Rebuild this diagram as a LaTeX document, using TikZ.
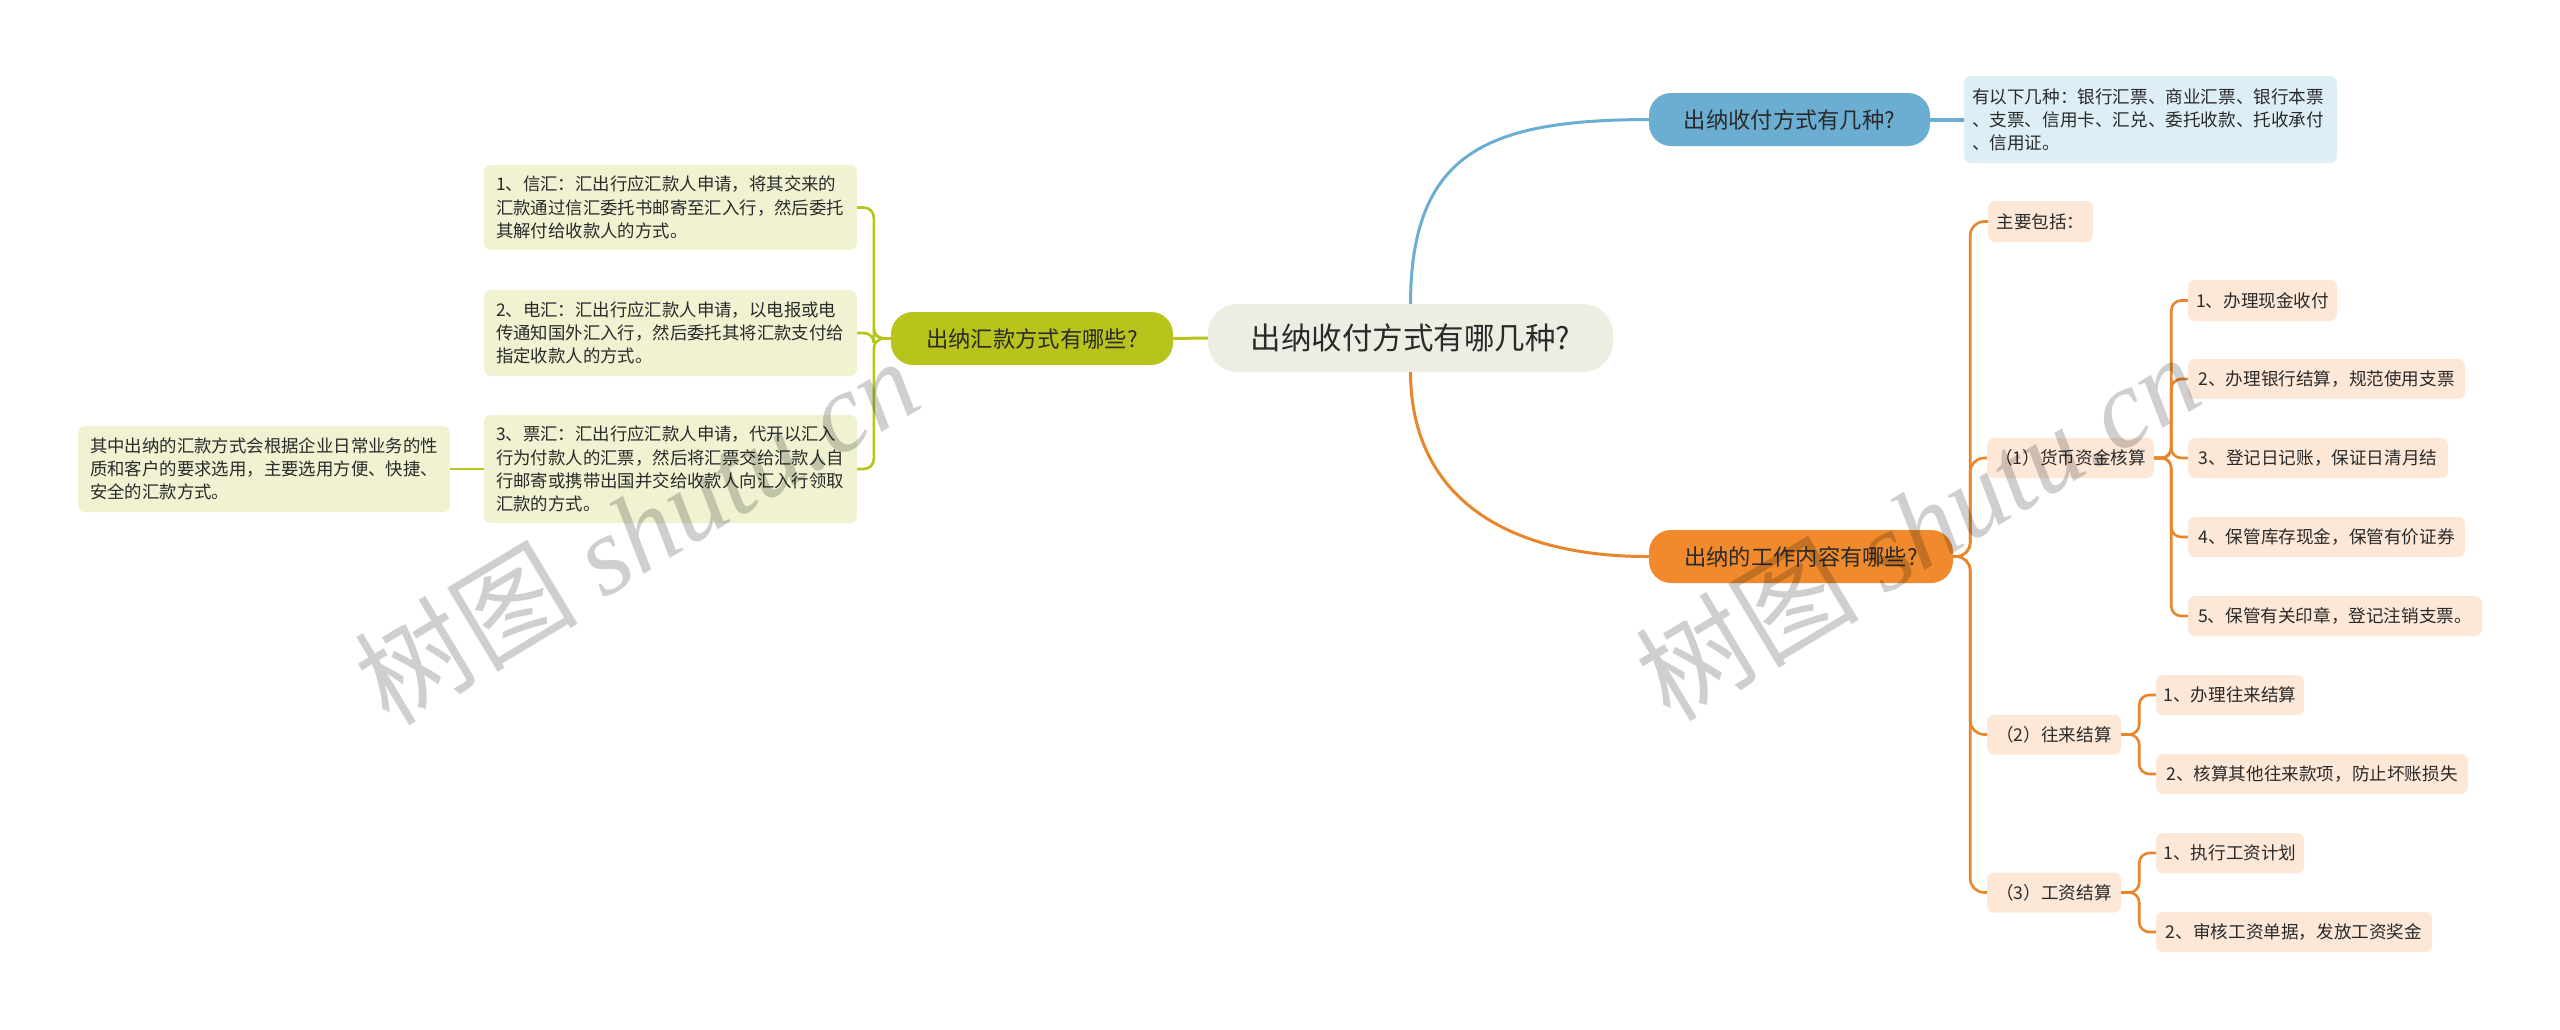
\documentclass[tikz,border=0pt]{standalone}
\usepackage{fontspec}
\setmainfont{Noto Sans CJK SC}
\newfontfamily\wmserif{Liberation Serif}
\definecolor{txt}{HTML}{2A2A2A}
\definecolor{rootfill}{HTML}{EDEDE4}
\definecolor{olivec}{HTML}{B8C41B}
\definecolor{oleaffill}{HTML}{F0F2D2}
\definecolor{bluec}{HTML}{6BAED2}
\definecolor{bleaffill}{HTML}{DEEEF6}
\definecolor{orangec}{HTML}{F08A2C}
\definecolor{orangeln}{HTML}{E8862D}
\definecolor{rleaffill}{HTML}{FDE8D8}
\tikzset{
  rootbox/.style={fill=rootfill, rounded corners=30pt, inner sep=0pt, minimum width=405pt, minimum height=68pt, text=txt, font=\fontsize{30.5}{35}\selectfont},
  mainbox/.style={rounded corners=22pt, inner sep=0pt, minimum height=53pt, text=txt, font=\fontsize{22.3}{26}\selectfont},
  oleaf/.style={fill=oleaffill, rounded corners=7pt, inner xsep=12pt, inner ysep=0pt, align=left, text=txt, font=\fontsize{17.4}{23.3}\selectfont},
  bleaf/.style={fill=bleaffill, rounded corners=7pt, inner xsep=8pt, inner ysep=0pt, align=left, text=txt, font=\fontsize{17.6}{23}\selectfont},
  rleaf/.style={fill=rleaffill, rounded corners=7pt, inner sep=0pt, minimum height=40pt, text=txt, font=\fontsize{17.6}{22}\selectfont},
  oline/.style={draw=olivec, line width=2.6pt},
  bline/.style={draw=bluec, line width=3pt},
  rline/.style={draw=orangeln, line width=2.6pt},
  wmark/.style={rotate=31, text=black, text opacity=0.19, inner sep=0pt}
}
\begin{document}
\begin{tikzpicture}[x=1pt,y=-1pt]
\useasboundingbox (0,0) rectangle (2560,1029);
\fill[white] (0,0) rectangle (2560,1029);

% nodes
\node[rootbox] (root) at (1410.5,338) {出纳收付方式有哪几种?};
\node[mainbox, fill=olivec, minimum width=282pt] (olive) at (1032,338.5) {出纳汇款方式有哪些?};
\node[mainbox, fill=bluec, minimum width=281pt] (blue) at (1789.5,119.5) {出纳收付方式有几种?};
\node[mainbox, fill=orangec, minimum width=304pt] (orange) at (1801,556.5) {出纳的工作内容有哪些?};

\node[oleaf, text width=349pt, minimum height=85pt] (l1) at (670.5,207.5)
  {1、信汇：汇出行应汇款人申请，将其交来的\\汇款通过信汇委托书邮寄至汇入行，然后委托\\其解付给收款人的方式。};
\node[oleaf, text width=349pt, minimum height=86pt] (l2) at (670.5,333)
  {2、电汇：汇出行应汇款人申请，以电报或电\\传通知国外汇入行，然后委托其将汇款支付给\\指定收款人的方式。};
\node[oleaf, text width=349pt, minimum height=108pt] (l3) at (670.5,469)
  {3、票汇：汇出行应汇款人申请，代开以汇入\\行为付款人的汇票，然后将汇票交给汇款人自\\行邮寄或携带出国并交给收款人向汇入行领取\\汇款的方式。};
\node[oleaf, text width=348pt, minimum height=86pt] (far) at (264,469)
  {其中出纳的汇款方式会根据企业日常业务的性\\质和客户的要求选用，主要选用方便、快捷、\\安全的汇款方式。};

\node[bleaf, text width=357pt, minimum height=87pt] (bd) at (2150.5,119.5)
  {有以下几种：银行汇票、商业汇票、银行本票\\、支票、信用卡、汇兑、委托收款、托收承付\\、信用证。};

\node[rleaf, minimum width=105pt, minimum height=41pt] (zy) at (2040.5,221.5) {主要包括：};
\node[rleaf, minimum width=167pt] (s1) at (2070.5,458) {（1）货币资金核算};
\node[rleaf, minimum width=149pt, minimum height=41pt] (s1a) at (2262.5,300.5) {1、办理现金收付};
\node[rleaf, minimum width=277pt] (s1b) at (2326.5,379) {2、办理银行结算，规范使用支票};
\node[rleaf, minimum width=260pt] (s1c) at (2318,458) {3、登记日记账，保证日清月结};
\node[rleaf, minimum width=277pt] (s1d) at (2326.5,537) {4、保管库存现金，保管有价证券};
\node[rleaf, minimum width=294pt] (s1e) at (2335,616) {5、保管有关印章，登记注销支票。};
\node[rleaf, minimum width=134pt] (s2) at (2054,734.5) {（2）往来结算};
\node[rleaf, minimum width=148pt] (s2a) at (2230,695) {1、办理往来结算};
\node[rleaf, minimum width=312pt] (s2b) at (2312,774) {2、核算其他往来款项，防止坏账损失};
\node[rleaf, minimum width=134pt] (s3) at (2054,892.5) {（3）工资结算};
\node[rleaf, minimum width=148pt] (s3a) at (2230,853) {1、执行工资计划};
\node[rleaf, minimum width=276pt] (s3b) at (2294,932) {2、审核工资单据，发放工资奖金};

% connectors
\draw[oline, line width=3pt] (root.west) -- (olive.east);
\foreach \c in {l1,l2,l3}
  \draw[oline, rounded corners=10pt] (olive.west) -- ++(-17,0) |- (\c.east);
\draw[oline] (l3.west) -- (far.east);

\draw[bline] (root.north) .. controls (1411,150) and (1490,120) .. (blue.west);
\draw[bline, line width=4pt] (blue.east) -- (bd.west);

\draw[rline, line width=3pt] (root.south) .. controls (1411,500) and (1510,557) .. (orange.west);
\foreach \c in {zy,s1,s2,s3}
  \draw[rline, rounded corners=14pt] (orange.east) -- ++(17,0) |- (\c.west);
\foreach \c in {s1a,s1b,s1c,s1d,s1e}
  \draw[rline, rounded corners=10pt] (s1.east) -- ++(17,0) |- (\c.west);
\foreach \c in {s2a,s2b}
  \draw[rline, rounded corners=10pt] (s2.east) -- ++(18,0) |- (\c.west);
\foreach \c in {s3a,s3b}
  \draw[rline, rounded corners=10pt] (s3.east) -- ++(18,0) |- (\c.west);

% watermarks
\node[wmark, font=\fontsize{112}{120}\selectfont] (wm1) at (636,530) {树图 {\wmserif\itshape shutu.cn}};
\node[wmark, font=\fontsize{112}{120}\selectfont] (wm2) at (1917,526) {树图 {\wmserif\itshape shutu.cn}};
\end{tikzpicture}
\end{document}
